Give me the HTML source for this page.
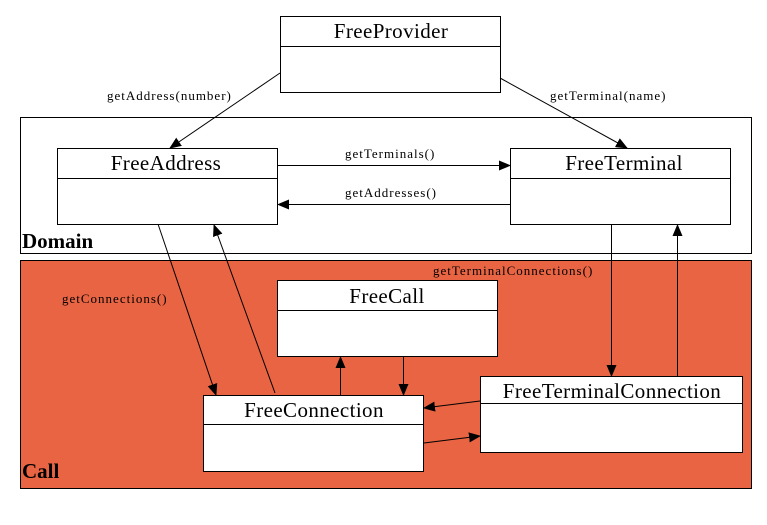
<!DOCTYPE html>
<html><head><meta charset="utf-8"><style>
html,body{margin:0;padding:0;background:#fff;}
svg{display:block;}
text{font-family:"Liberation Serif",serif;fill:#000;}
.t{font-size:21px;text-anchor:middle;letter-spacing:0.4px;}
.l{font-size:13px;letter-spacing:1px;}
</style></head><body>
<svg width="767" height="525" viewBox="0 0 767 525" xmlns="http://www.w3.org/2000/svg">
<defs><marker id="a" markerWidth="12" markerHeight="10" refX="11" refY="5" orient="auto" markerUnits="userSpaceOnUse"><path d="M0,0 L12,5 L0,10 Z" fill="#000"/></marker></defs>
<rect x="20.5" y="117.5" width="731" height="136" fill="#fff" stroke="#000"/>
<rect x="20.5" y="260.5" width="731" height="228" fill="#E96443" stroke="#000"/>
<text x="22" y="248" style="font-size:21px;font-weight:bold">Domain</text>
<text x="22" y="478" style="font-size:21px;font-weight:bold">Call</text>
<g fill="#fff" stroke="#000">
<rect x="280.5" y="16.5" width="220" height="76"/><line x1="280" y1="46.5" x2="500" y2="46.5"/>
<rect x="57.5" y="148.5" width="220" height="76"/><line x1="57" y1="178.5" x2="277" y2="178.5"/>
<rect x="510.5" y="148.5" width="220" height="76"/><line x1="510" y1="178.5" x2="730" y2="178.5"/>
<rect x="277.5" y="280.5" width="220" height="76"/><line x1="277" y1="310.5" x2="497" y2="310.5"/>
<rect x="203.5" y="395.5" width="220" height="76"/><line x1="203" y1="424.5" x2="423" y2="424.5"/>
<rect x="480.5" y="376.5" width="262" height="76"/><line x1="480" y1="403.5" x2="742" y2="403.5"/>
</g>
<text class="t" x="391" y="38">FreeProvider</text>
<text class="t" x="166" y="170">FreeAddress</text>
<text class="t" x="624" y="170">FreeTerminal</text>
<text class="t" x="387" y="303">FreeCall</text>
<text class="t" x="314" y="417">FreeConnection</text>
<text class="t" x="612" y="398">FreeTerminalConnection</text>
<g stroke="#000" stroke-width="1" marker-end="url(#a)" fill="none">
<line x1="280" y1="73" x2="170" y2="148"/>
<line x1="500" y1="78" x2="627" y2="148"/>
<line x1="277" y1="165.5" x2="510" y2="165.5"/>
<line x1="510" y1="204.5" x2="278" y2="204.5"/>
<line x1="158" y1="224" x2="216" y2="395"/>
<line x1="275" y1="393" x2="214" y2="225"/>
<line x1="611.5" y1="224" x2="611.5" y2="376"/>
<line x1="677.5" y1="376" x2="677.5" y2="225"/>
<line x1="340.5" y1="395" x2="340.5" y2="357"/>
<line x1="403.5" y1="356" x2="403.5" y2="395"/>
<line x1="480" y1="401" x2="424" y2="408"/>
<line x1="424" y1="443" x2="480" y2="436"/>
</g>
<text class="l" x="107" y="100">getAddress(number)</text>
<text class="l" x="550" y="100">getTerminal(name)</text>
<text class="l" x="345" y="158">getTerminals()</text>
<text class="l" x="345" y="197">getAddresses()</text>
<text class="l" x="62" y="303">getConnections()</text>
<text class="l" x="433" y="275">getTerminalConnections()</text>
</svg>
</body></html>
